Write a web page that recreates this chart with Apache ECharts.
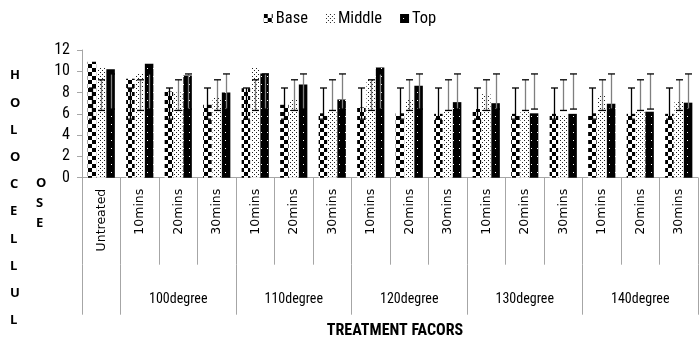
<!DOCTYPE html>
<html>
<head>
<meta charset="utf-8">
<script src="https://cdn.jsdelivr.net/npm/echarts@6/dist/echarts.min.js"></script>
<style>html,body{margin:0;padding:0;background:#fff}#c{width:700px;height:344px}</style>
</head>
<body>
<div id="c"></div>
<script>
// ---- data ----
const categories = ['Untreated','10mins','20mins','30mins','10mins','20mins','30mins','10mins','20mins','30mins','10mins','20mins','30mins','10mins','20mins','30mins'];
const groupNames = ['', '100degree', '110degree', '120degree', '130degree', '140degree'];
const groupSizes = [1, 3, 3, 3, 3, 3];
const baseValues   = [10.9, 9.3, 8.1, 6.85, 8.4, 6.85, 6.05, 6.6, 6.05, 6.0, 6.45, 6.0, 6.0, 6.05, 6.0, 6.0];
const middleValues = [10.4, 9.75, 8.0, 7.5, 10.4, 7.35, 6.3, 9.2, 7.35, 6.3, 7.85, 6.3, 5.9, 7.7, 6.3, 7.15];
const topValues    = [10.2, 10.7, 9.6, 8.0, 9.8, 8.75, 7.35, 10.35, 8.65, 7.1, 7.0, 6.05, 6.0, 6.95, 6.2, 7.05];
const baseErr   = [5.5, 8.43];
const middleErr = [6.32, 9.2];
const topErr    = [6.45, 9.75];
const yTicks = [0, 2, 4, 6, 8, 10, 12];

// ---- patterns ----
function mk(w, h, draw) { const c = document.createElement('canvas'); c.width = w; c.height = h; const g = c.getContext('2d'); draw(g); return c; }
const checker = mk(8, 8, g => { g.fillStyle = '#fff'; g.fillRect(0,0,8,8); g.fillStyle = '#000'; g.fillRect(0,0,4,4); g.fillRect(4,4,4,4); });
const dotted = mk(4, 4, g => { g.fillStyle = '#fff'; g.fillRect(0,0,4,4); g.fillStyle = '#222'; g.fillRect(0,0,1,1); g.fillRect(2,2,1,1); });
const blackDots = mk(6, 8, g => { g.fillStyle = '#000'; g.fillRect(0,0,6,8); g.fillStyle = '#fff'; g.fillRect(3,4,1,1); });
const patBase = { image: checker, repeat: 'repeat' };
const patMid = { image: dotted, repeat: 'repeat' };
const patTop = { image: blackDots, repeat: 'repeat' };

// ---- groups axis ----
const groupData = [], groupStart = new Set(), groupMid = new Set();
let idx = 0;
groupNames.forEach((g, k) => {
  groupStart.add(idx);
  const n = groupSizes[k];
  for (let j = 0; j < n; j++) groupData.push(g);
  if (g) groupMid.add(idx + Math.floor(n / 2));
  idx += n;
});

const BAR_W = 8.5, GAP_RATIO = 0.1, STEP = BAR_W * (1 + GAP_RATIO);

function errSeries(k, err, lineColor) {
  return {
    type: 'custom', silent: true, z: 10,
    data: categories.map((c, i) => [i, err[0], err[1]]),
    renderItem(params, api) {
      const lo = api.coord([api.value(0), api.value(1)]);
      const hi = api.coord([api.value(0), api.value(2)]);
      const x = Math.round(lo[0] + (k - 1) * STEP) + 0.5;
      const capW = 3.5;
      return { type: 'group', children: [
        { type: 'line', shape: { x1: x, y1: lo[1], x2: x, y2: hi[1] }, style: { stroke: lineColor, lineWidth: 1.3 } },
        { type: 'line', shape: { x1: x - capW, y1: hi[1], x2: x + capW, y2: hi[1] }, style: { stroke: '#000', lineWidth: 1.3 } },
        { type: 'line', shape: { x1: x - capW, y1: lo[1], x2: x + capW, y2: lo[1] }, style: { stroke: '#000', lineWidth: 1.3 } }
      ]};
    }
  };
}

const axisGray = '#a6a6a6';
const narrow = 'Liberation Sans Narrow, Roboto Condensed, Liberation Sans, sans-serif';
const chart = echarts.init(document.getElementById('c'), null, { renderer: 'canvas' });
chart.setOption({
  animation: false,
  backgroundColor: '#fff',
  textStyle: { fontFamily: narrow },
  title: [
    { text: 'H\nO\nL\nO\nC\nE\nL\nL\nU\nL', left: 5, top: 57,
      textStyle: { fontFamily: 'Open Sans', fontWeight: 'bold', fontSize: 13, lineHeight: 27.2, color: '#000' } },
    { text: 'O\nS\nE', left: 31, top: 168,
      textStyle: { fontFamily: 'Open Sans', fontWeight: 'bold', fontSize: 13, lineHeight: 20, color: '#000' } },
    { text: 'TREATMENT FACORS', left: 390, top: 318, textAlign: 'center',
      textStyle: { fontFamily: narrow, fontWeight: 'bold', fontSize: 16, color: '#000' } }
  ],
  legend: {
    data: ['Base', 'Middle', 'Top'], top: 5, left: 'center', icon: 'rect',
    itemWidth: 9, itemHeight: 9, itemGap: 18,
    textStyle: { fontFamily: narrow, fontSize: 16.5, color: '#000', padding: [0,0,0,-2] }
  },
  grid: { left: 82, right: 2, top: 50, bottom: 166.3, containLabel: false },
  xAxis: [
    { type: 'category', data: categories,
      axisLine: { lineStyle: { color: axisGray, width: 1 } },
      axisTick: { show: true, length: 87, lineStyle: { color: axisGray } },
      axisLabel: { rotate: 90, interval: 0, margin: 11, fontFamily: 'DejaVu Sans', fontSize: 12.5, color: '#000' } },
    { type: 'category', data: groupData, position: 'bottom', offset: 87,
      axisLine: { show: false },
      axisTick: { show: true, length: 50, lineStyle: { color: axisGray }, interval: (i) => groupStart.has(i) },
      axisLabel: { interval: (i) => groupMid.has(i), margin: 28, fontFamily: narrow, fontSize: 14, color: '#000' } }
  ],
  yAxis: {
    type: 'value', min: yTicks[0], max: yTicks[yTicks.length - 1], interval: 2,
    axisLine: { show: true, lineStyle: { color: axisGray } },
    axisTick: { show: true, length: 5, lineStyle: { color: axisGray } },
    splitLine: { show: false },
    axisLabel: { margin: 12, fontFamily: narrow, fontSize: 16, color: '#000' }
  },
  series: [
    { name: 'Base', type: 'bar', data: baseValues, barWidth: BAR_W, barGap: (GAP_RATIO*100) + '%', itemStyle: { color: patBase } },
    { name: 'Middle', type: 'bar', data: middleValues, barWidth: BAR_W, barGap: (GAP_RATIO*100) + '%', itemStyle: { color: patMid } },
    { name: 'Top', type: 'bar', data: topValues, barWidth: BAR_W, barGap: (GAP_RATIO*100) + '%', itemStyle: { color: patTop } },
    errSeries(0, baseErr, '#000'),
    errSeries(1, middleErr, '#7f7f7f'),
    errSeries(2, topErr, '#7f7f7f')
  ]
});
</script>
</body>
</html>
